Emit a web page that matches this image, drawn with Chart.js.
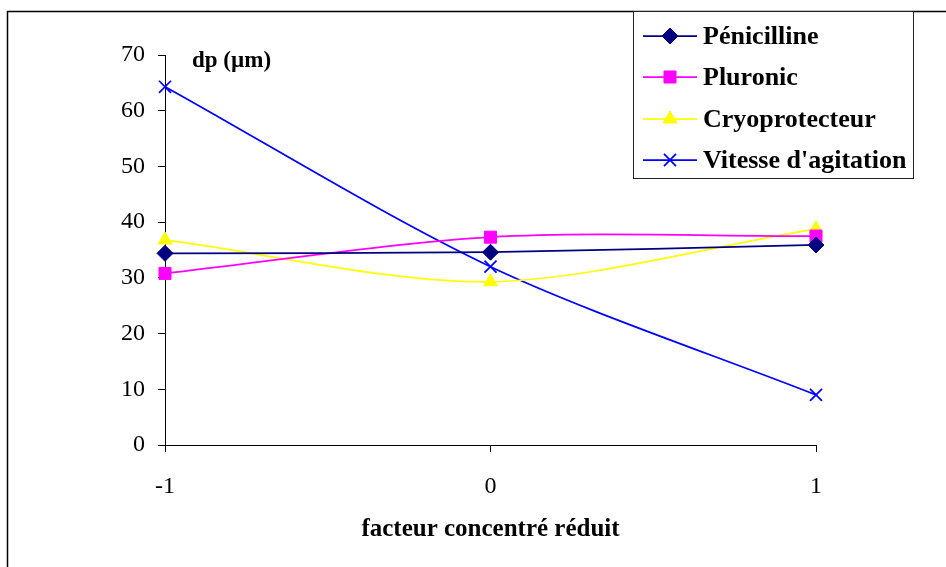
<!DOCTYPE html>
<html>
<head>
<meta charset="utf-8">
<script src="https://cdn.jsdelivr.net/npm/chart.js@4/dist/chart.umd.min.js"></script>
<style>
  html, body { margin: 0; padding: 0; background: #fff; }
  #wrap { width: 946px; height: 567px; position: relative; }
</style>
</head>
<body>
<div id="wrap"><canvas id="canvas-dp"></canvas></div>
<script>
// facteur concentré réduit
const niveaux = ["-1", "0", "1"];
const penicilline = [34.4, 34.6, 35.9];
const pluronic = [30.8, 37.3, 37.5];
const cryoprotecteur = [36.8, 29.3, 38.8];
const vitesseAgitation = [64.3, 32.0, 9.0];

const serif = "'Liberation Serif', 'Times New Roman', serif";

const serie = (label, data, color, style, radius) => ({
  label: label,
  data: data,
  borderColor: color,
  backgroundColor: color,
  borderWidth: 1.75,
  tension: 0.3,
  pointStyle: style,
  pointRadius: radius,
  pointHoverRadius: radius,
  pointBorderWidth: style === "crossRot" ? 1.75 : 1,
  clip: false,
});

// cadre + legende + "dp (µm)"
const decor = {
  id: "decor",
  afterDraw(chart) {
    const ctx = chart.ctx;
    ctx.save();
    ctx.strokeStyle = "#000";
    ctx.lineWidth = 1.5;
    ctx.beginPath();
    ctx.moveTo(7.5, 567);
    ctx.lineTo(7.5, 11.5);
    ctx.lineTo(946, 11.5);
    ctx.stroke();

    ctx.fillStyle = "#000";
    ctx.font = "bold 23px " + serif;
    ctx.textBaseline = "middle";
    ctx.textAlign = "left";
    ctx.fillText("dp (\u00b5m)", 192, 61);

    // legende
    ctx.fillStyle = "#fff";
    ctx.fillRect(633, 11, 280, 167);
    ctx.strokeStyle = "#222";
    ctx.lineWidth = 1;
    ctx.strokeRect(633.5, 11.5, 280, 167);
    const rows = [36, 77, 119, 160];
    chart.data.datasets.forEach((ds, i) => {
      const y = rows[i];
      ctx.strokeStyle = ds.borderColor;
      ctx.lineWidth = 1.75;
      ctx.beginPath();
      ctx.moveTo(643, y);
      ctx.lineTo(697, y);
      ctx.stroke();
      ctx.fillStyle = ds.backgroundColor;
      ctx.strokeStyle = ds.borderColor;
      ctx.lineWidth = ds.pointBorderWidth;
      Chart.helpers.drawPoint(ctx, {
        pointStyle: ds.pointStyle,
        radius: ds.pointRadius,
        rotation: 0,
        borderWidth: ds.pointBorderWidth,
      }, 670, y);
      ctx.fillStyle = "#000";
      ctx.font = "bold 26px " + serif;
      ctx.textAlign = "left";
      ctx.textBaseline = "middle";
      ctx.fillText(ds.label, 703, y + 1);
    });
    ctx.restore();
  },
};

new Chart(document.getElementById("canvas-dp"), {
  type: "line",
  plugins: [decor],
  data: {
    labels: niveaux,
    datasets: [
      serie("Pénicilline", penicilline, "#000080", "rectRot", 8),
      serie("Pluronic", pluronic, "#ff00ff", "rect", 8.5),
      serie("Cryoprotecteur", cryoprotecteur, "#ffff00", "triangle", 8),
      serie("Vitesse d'agitation", vitesseAgitation, "#0000ff", "crossRot", 8.5),
    ],
  },
  options: {
    responsive: true,
    maintainAspectRatio: false,
    animation: false,
    layout: {
      padding: { top: 55, right: 130, left: 0, bottom: 0 },
    },
    plugins: {
      legend: { display: false },
      tooltip: { enabled: false },
    },
    scales: {
      x: {
        type: "category",
        offset: false,
        afterFit(scale) { scale.height = 122; },
        grid: {
          drawOnChartArea: false,
          drawTicks: true,
          tickLength: 7,
          color: "#000",
        },
        border: { color: "#000", width: 1 },
        ticks: {
          color: "#000",
          padding: 20,
          maxRotation: 0,
          font: { family: serif, size: 24 },
        },
        title: {
          display: true,
          text: "facteur concentré réduit",
          color: "#000",
          padding: { top: 0, bottom: 22 },
          font: { family: serif, size: 25, weight: "bold" },
        },
      },
      y: {
        min: 0,
        max: 70,
        afterFit(scale) { scale.width = 165; },
        grid: {
          drawOnChartArea: false,
          drawTicks: true,
          tickLength: 7,
          color: "#000",
        },
        border: { color: "#000", width: 1 },
        ticks: {
          stepSize: 10,
          color: "#000",
          padding: 13,
          font: { family: serif, size: 24 },
        },
      },
    },
  },
});
</script>
</body>
</html>
